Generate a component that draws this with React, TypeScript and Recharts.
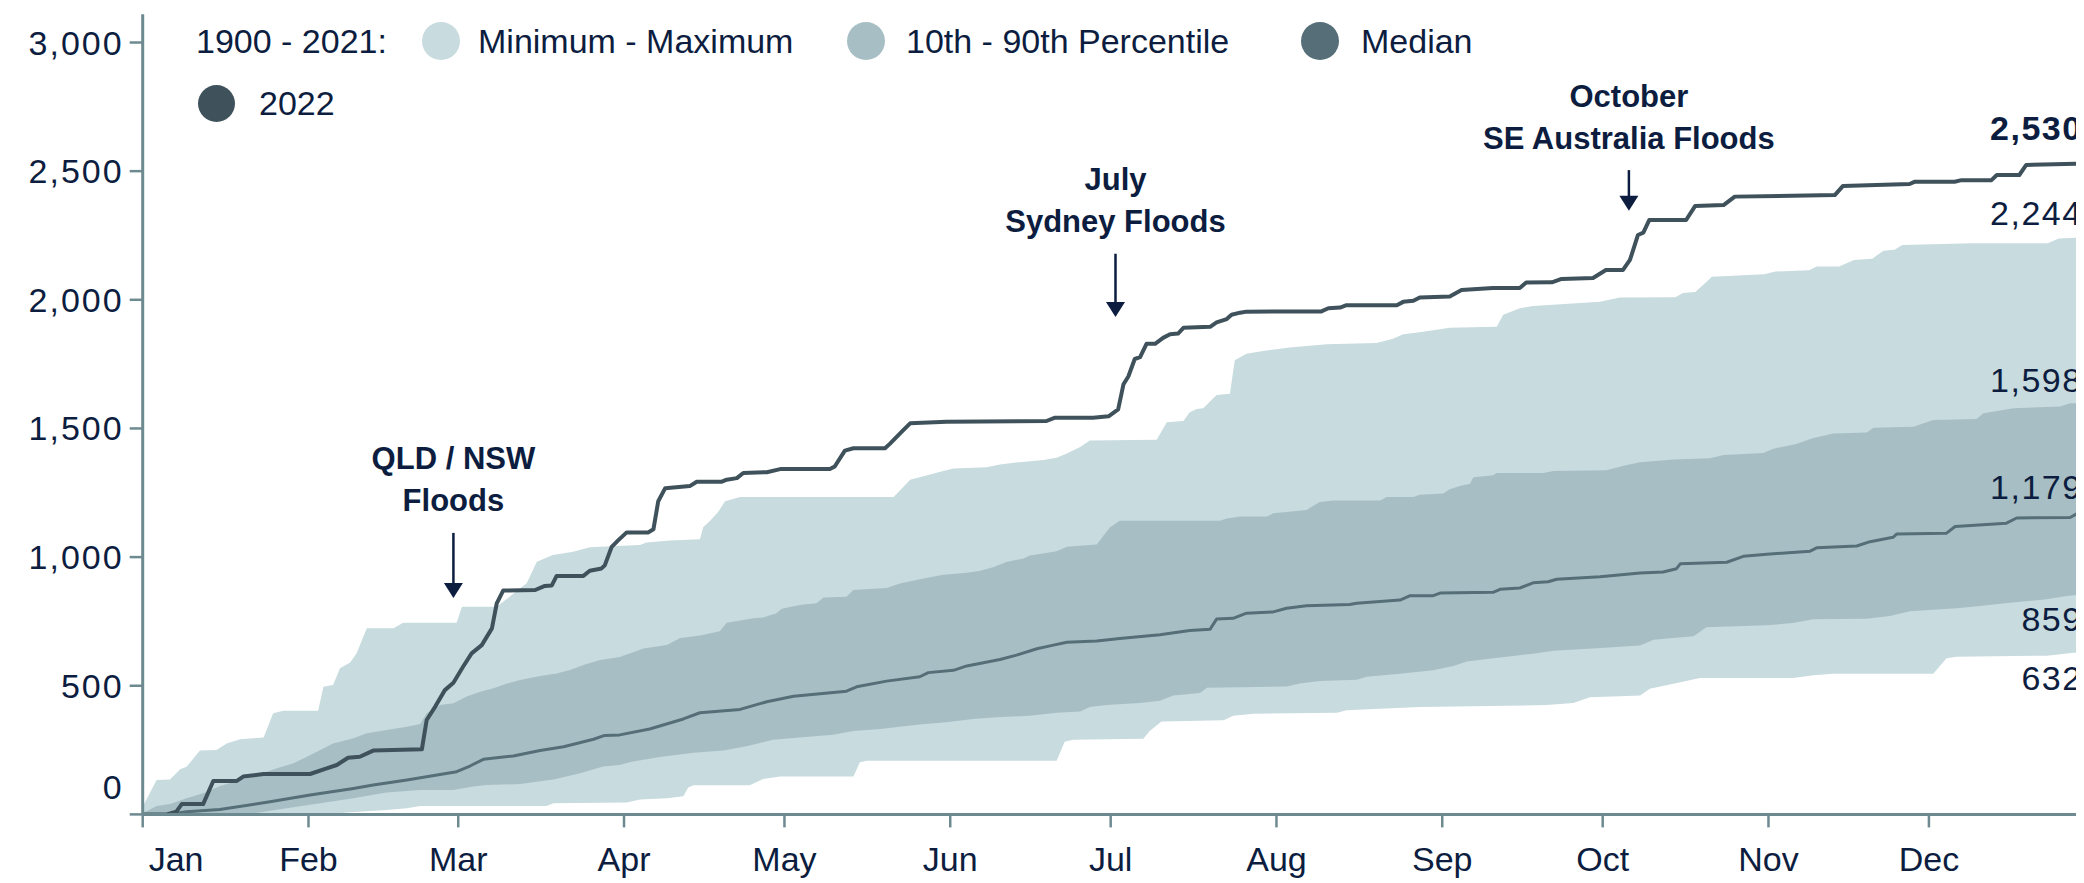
import React from 'react';
import { ComposedChart, Area, Line, XAxis, YAxis, ReferenceDot, ReferenceLine } from 'recharts';

// ---------- data (day of year, value in mm) ----------
const monthTicks = [0, 31, 59, 90, 120, 151, 181, 212, 243, 273, 304, 334];
const monthLabels = ['Jan', 'Feb', 'Mar', 'Apr', 'May', 'Jun', 'Jul', 'Aug', 'Sep', 'Oct', 'Nov', 'Dec'];
const yTicks = [0, 500, 1000, 1500, 2000, 2500, 3000];

const rain2022: [number, number][] = [
  [0, 0], [4.5, 0], [6.3, 11], [7.3, 40], [11.3, 40], [13.2, 130], [17.6, 130], [18.8, 147], [22.6, 157], [31.3, 157],
  [34.4, 179], [36.3, 192], [38.4, 220], [40.6, 224], [43.1, 248], [52.2, 253], [53.1, 367], [54.7, 419], [56.5, 483],
  [58.1, 512], [59.9, 574], [61.5, 626], [63.4, 658], [65.3, 723], [66.2, 820], [67.4, 870], [73.4, 872], [75.2, 888],
  [76.5, 890], [77.4, 927], [82.4, 927], [83.6, 947], [85.8, 956], [86.4, 968], [87.7, 1040], [88.9, 1065], [90.5, 1096],
  [94.5, 1096], [95.5, 1108], [96.4, 1217], [97.7, 1268], [102.3, 1276], [103.6, 1293], [108.3, 1293], [109.2, 1301],
  [111.1, 1307], [112.3, 1327], [116.7, 1330], [119.2, 1342], [128.5, 1342], [129.4, 1352], [131.3, 1414], [132.9, 1423],
  [138.8, 1423], [139.7, 1440], [141.9, 1487], [143.5, 1520], [150.3, 1526], [169.0, 1529], [170.6, 1542], [177.7, 1542],
  [180.6, 1547], [182.4, 1574], [183.4, 1672], [184.3, 1702], [185.5, 1770], [186.5, 1777], [187.7, 1829], [189.3, 1829],
  [190.8, 1852], [192.1, 1866], [193.6, 1869], [194.6, 1891], [199.6, 1895], [200.8, 1912], [202.7, 1925], [203.6, 1942],
  [205.2, 1950], [206.4, 1954], [220.4, 1955], [221.7, 1967], [223.9, 1970], [225.1, 1979], [234.5, 1979], [235.7, 1992],
  [237.6, 1996], [238.8, 2009], [244.4, 2013], [246.6, 2038], [248.8, 2041], [252.5, 2046], [257.5, 2046], [258.7, 2067],
  [263.5, 2068], [265.3, 2081], [271.2, 2085], [273.6, 2116], [276.8, 2116], [278.1, 2155], [279.6, 2252], [280.6, 2261],
  [281.7, 2310], [288.6, 2310], [290.3, 2365], [295.6, 2368], [297.7, 2401], [316.4, 2407], [317.9, 2442], [330.4, 2450],
  [331.4, 2459], [338.8, 2459], [340.1, 2465], [345.7, 2465], [346.7, 2485], [350.9, 2485], [352.2, 2524], [365, 2530],
];

const median: [number, number][] = [
  [0, 0], [4.5, 0], [8.2, 10], [14.4, 19], [23.8, 49], [31.3, 75], [39.4, 101], [43.1, 114], [49.4, 134], [58.7, 166],
  [61.2, 188], [63.7, 214], [69.3, 227], [74.3, 248], [78.7, 263], [84.3, 292], [86.4, 307], [89.2, 309], [94.8, 332],
  [101.1, 371], [104.2, 395], [111.7, 408], [116.7, 438], [121.7, 459], [131.6, 479], [133.5, 496], [139.1, 518],
  [145.3, 535], [146.9, 551], [151.6, 560], [154.1, 577], [160.3, 602], [163.4, 619], [167.2, 644], [170.3, 658],
  [172.8, 669], [178.4, 674], [182.7, 684], [190.2, 698], [195.8, 715], [199.6, 720], [200.8, 759], [203.9, 762],
  [206.4, 782], [211.4, 787], [213.9, 801], [217.6, 811], [225.7, 816], [227, 821], [235.1, 833], [237, 850], [241.3, 850],
  [242.6, 860], [252.5, 863], [253.8, 875], [257.5, 880], [260, 900], [262.8, 904], [264.4, 914], [272.5, 924], [280, 938],
  [284.3, 942], [286.8, 955], [287.5, 974], [296.2, 980], [299.3, 1003], [303.7, 1011], [311.8, 1023], [313, 1036],
  [320.5, 1043], [323, 1060], [327.3, 1077], [328, 1090], [337.3, 1093], [338.9, 1119], [348.5, 1132], [350.4, 1152],
  [360.4, 1154], [362.2, 1174], [365, 1179],
];

const p90: [number, number][] = [
  [0, 4], [2.6, 33], [5.1, 40], [8.2, 63], [11.3, 82], [14.5, 110], [18.2, 134], [21.9, 157], [25.1, 179], [28.2, 199],
  [30.7, 224], [33.2, 250], [35.6, 276], [39.4, 296], [41.9, 315], [45.6, 328], [49.4, 341], [51.9, 351], [53.1, 393],
  [55.6, 425], [58.1, 432], [60.6, 458], [63.1, 477], [65.6, 490], [68.1, 509], [70.6, 522], [74.3, 538], [77.4, 548],
  [79.9, 561], [82.4, 581], [85.5, 600], [89.2, 612], [91.7, 630], [93.6, 645], [98, 658], [100.5, 686], [104.2, 695],
  [107.9, 712], [109.2, 745], [114.2, 762], [116, 765], [118.5, 782], [119.5, 799], [121.7, 809], [123.5, 816], [126, 821],
  [127.3, 843], [131.6, 846], [132.9, 872], [136.6, 877], [139.1, 880], [141.6, 897], [145.3, 914], [149.7, 931],
  [154.1, 939], [156.6, 947], [159, 961], [161.5, 981], [164.7, 995], [165.9, 1006], [170.9, 1023], [172.8, 1040],
  [178.4, 1049], [179.6, 1082], [180.9, 1116], [182.7, 1141], [201.4, 1141], [202.7, 1150], [205.2, 1158], [210.2, 1158],
  [211.4, 1170], [213.9, 1175], [217.6, 1183], [218.9, 1200], [220.1, 1214], [222.6, 1220], [231.4, 1220], [232.6, 1234],
  [237.6, 1234], [238.8, 1242], [243.2, 1247], [244.4, 1264], [246.3, 1276], [248.2, 1285], [248.8, 1310], [252.5, 1318],
  [253.2, 1327], [261.9, 1327], [263.8, 1335], [273.7, 1338], [276.9, 1355], [280, 1369], [286.2, 1379], [293.1, 1384],
  [295.6, 1397], [303, 1405], [304.9, 1421], [307.4, 1432], [309.3, 1441], [312.4, 1463], [316.1, 1480], [322.4, 1484],
  [323.6, 1503], [331.1, 1507], [334.8, 1533], [342.9, 1537], [344.2, 1559], [349.8, 1579], [358.5, 1585], [360.4, 1598],
  [365, 1598],
];

const p10: [number, number][] = [
  [0, 0], [15, 0], [20.7, 4], [26.9, 24], [33.2, 43], [39.4, 63], [45.6, 85], [51.9, 95], [58.1, 95], [61.8, 108],
  [64.3, 114], [70.6, 118], [76.8, 136], [81.8, 160], [86.1, 186], [89.2, 192], [91.7, 206], [96.7, 223], [103, 240],
  [108.6, 248], [112.9, 265], [117.9, 290], [122.9, 299], [129.1, 310], [132.9, 324], [137.9, 332], [145.3, 349],
  [150.3, 358], [155.3, 371], [159.7, 378], [165.9, 383], [170.9, 395], [175.3, 400], [177.1, 417], [180.2, 425],
  [186.5, 433], [190.2, 442], [192.7, 462], [197.7, 472], [199, 492], [213.9, 497], [216.4, 509], [220.1, 518], [227, 523],
  [228.9, 535], [235.1, 547], [241.3, 560], [245.1, 577], [247.6, 594], [253.8, 610], [260, 624], [263.8, 636],
  [271.9, 646], [280, 656], [282.5, 679], [290, 692], [292.4, 727], [303.7, 735], [308.6, 744], [312.4, 758], [322.4, 760],
  [326.7, 771], [330.5, 790], [339.2, 801], [343.6, 810], [349.2, 823], [356, 836], [359.8, 849], [365, 859],
];

const maxSeries: [number, number][] = [
  [0, 30], [2.6, 134], [5.1, 136], [7, 175], [8.2, 185], [10.7, 248], [13.8, 250], [15.7, 276], [18.2, 292], [22.6, 299],
  [24.4, 393], [26.3, 403], [32.8, 403], [33.8, 496], [35.6, 503], [36.9, 568], [38.8, 590], [40, 626], [41.9, 723],
  [46.9, 723], [48.7, 745], [58.7, 745], [59.7, 807], [66.2, 807], [71.8, 898], [73.7, 982], [76.7, 1008], [80.5, 1021],
  [83.6, 1038], [93, 1047], [94.2, 1057], [98.6, 1065], [104.2, 1069], [104.8, 1116], [106.1, 1141], [107.6, 1175],
  [108.9, 1217], [111.7, 1234], [140.4, 1234], [141.6, 1259], [143.5, 1301], [145.3, 1310], [149.7, 1335], [151.6, 1344],
  [157.8, 1349], [160.3, 1360], [164, 1369], [168.4, 1377], [170.9, 1386], [172.8, 1403], [175.3, 1428], [177.1, 1453],
  [189.6, 1456], [191.5, 1524], [194.6, 1529], [195.8, 1563], [197.1, 1576], [198.3, 1579], [200.8, 1630], [203.3, 1635],
  [204.2, 1765], [206.4, 1790], [208.9, 1799], [212.7, 1810], [214.5, 1815], [221.4, 1827], [230.7, 1832], [233.8, 1849],
  [235.7, 1866], [238.8, 1874], [244.4, 1891], [253.2, 1895], [254.4, 1942], [257.5, 1967], [260, 1976], [272.5, 1992],
  [276.2, 2009], [286.6, 2010], [288, 2026], [290.3, 2030], [292.8, 2077], [293.4, 2090], [303.2, 2099], [305.3, 2110],
  [311.6, 2115], [313, 2129], [317.2, 2129], [320, 2155], [323.4, 2160], [325.5, 2191], [327.6, 2195], [329, 2213],
  [342.2, 2220], [356.2, 2220], [358.3, 2238], [365, 2244],
];

const minSeries: [number, number][] = [
  [0, 0], [30.7, 0], [35.6, 2], [38.1, 7], [45.6, 17], [49.4, 24], [51.9, 33], [75.5, 33], [76.8, 43], [90.5, 46],
  [93, 58], [98, 63], [101.1, 71], [102, 105], [103, 113], [113.5, 113], [116, 138], [119.2, 147], [132.9, 147],
  [134.1, 203], [135.4, 209], [170.9, 209], [172.4, 282], [174, 290], [187.1, 294], [188.3, 324], [190.5, 361],
  [202.1, 366], [203.9, 383], [207.7, 391], [223.3, 395], [225.1, 405], [228.2, 408], [238.8, 417], [262.5, 425],
  [267.5, 433], [270.6, 455], [276.2, 459], [280, 462], [281.8, 488], [286.2, 508], [291.2, 530], [308.6, 530],
  [312.4, 541], [316.1, 547], [334.8, 547], [337.3, 607], [339.2, 613], [356, 617], [361, 628], [365, 632],
];

// annotations: day, arrow tip value, arrow tail value, text lines
const annoDays = [58.1, 181.9, 277.9];
const annoTip = [841, 1933, 2346];
const annoTail = [1094, 2179, 2504];
const annoText = [['QLD / NSW', 'Floods'], ['July', 'Sydney Floods'], ['October', 'SE Australia Floods']];

const legendLabels = ['1900 - 2021:', 'Minimum - Maximum', '10th - 90th Percentile', 'Median', '2022'];

// ---------- styles ----------
const TEXT = '#0c1d40';
const AXIS = '#6e8a91';
const LIGHT = '#c8dbdf';
const MID = '#a7bfc4';
const MEDIAN = '#566e78';
const Y2022 = '#3f525c';
const FONT = '"Liberation Sans", Arial, sans-serif';

// merge the series into one table keyed by day
const seriesMap: Record<string, [number, number][]> = {
  max: maxSeries, p90, p10, min: minSeries, median, y2022: rain2022,
};
const rowMap = new Map<number, any>();
Object.entries(seriesMap).forEach(([key, arr]) => {
  arr.forEach(([d, v]) => {
    const r = rowMap.get(d) ?? { day: d };
    r[key] = v;
    rowMap.set(d, r);
  });
});
const data = Array.from(rowMap.values()).sort((a, b) => a.day - b.day);

const last = (arr: [number, number][]) => arr[arr.length - 1][1];
const endLabels = [
  { v: last(rain2022), pos: 'top2022' },
  { v: last(maxSeries), pos: 'above' },
  { v: last(p90), pos: 'above' },
  { v: last(median), pos: 'above' },
  { v: last(p10), pos: 'below' },
  { v: last(minSeries), pos: 'below' },
];

const fmt = (v: number) => v.toLocaleString('en-US');

const YTick = (props: any) => {
  const { x, y, payload } = props;
  const v = payload.value;
  const shift = v === 0 ? -27 : 0;
  return (
    <text x={x - 4} y={y + shift + 12} textAnchor="end" fill={TEXT} fontSize={34}
      fontFamily={FONT} letterSpacing={2}>{fmt(v)}</text>
  );
};

const XTick = (props: any) => {
  const { x, y, payload } = props;
  const i = monthTicks.indexOf(payload.value);
  const first = i === 0;
  return (
    <text x={first ? x + 6 : x} y={y + 42} textAnchor={first ? 'start' : 'middle'} fill={TEXT}
      fontSize={34} fontFamily={FONT}>{monthLabels[i]}</text>
  );
};

const Circle = ({ left, top, r, color }: any) => (
  <div style={{ position: 'absolute', left: left - r, top: top - r, width: 2 * r, height: 2 * r, borderRadius: '50%', background: color }} />
);
const LText = ({ left, top, children }: any) => (
  <div style={{ position: 'absolute', left, top: top - 20, height: 40, lineHeight: '40px', fontSize: 34, fontFamily: FONT, color: TEXT, whiteSpace: 'nowrap' }}>{children}</div>
);

export default function App() {
  return (
    <div style={{ position: 'relative', width: 2076, height: 875, overflow: 'hidden', background: '#fff' }}>
      <ComposedChart width={2120} height={875} data={data} margin={{ top: 6.2, right: 33.3, bottom: 0, left: 0 }}>
        <Area dataKey="max" type="linear" baseValue={0} stroke="none" fill={LIGHT} fillOpacity={1} connectNulls isAnimationActive={false} />
        <Area dataKey="p90" type="linear" baseValue={0} stroke="none" fill={MID} fillOpacity={1} connectNulls isAnimationActive={false} />
        <Area dataKey="p10" type="linear" baseValue={0} stroke="none" fill={LIGHT} fillOpacity={1} connectNulls isAnimationActive={false} />
        <Area dataKey="min" type="linear" baseValue={0} stroke="none" fill="#ffffff" fillOpacity={1} connectNulls isAnimationActive={false} />
        <Line dataKey="median" type="linear" stroke={MEDIAN} strokeWidth={3} dot={false} connectNulls isAnimationActive={false} strokeLinejoin="round" />
        <Line dataKey="y2022" type="linear" stroke={Y2022} strokeWidth={4} dot={false} connectNulls isAnimationActive={false} strokeLinejoin="round" />

        {annoDays.map((d, i) => (
          <ReferenceLine key={'al' + i} segment={[{ x: d, y: annoTail[i] }, { x: d, y: annoTip[i] + 40 }]} stroke={TEXT} strokeWidth={2.5} />
        ))}
        {annoDays.map((d, i) => (
          <ReferenceDot key={'ah' + i} x={d} y={annoTip[i]} r={0}
            shape={(p: any) => (
              <polygon points={`${p.cx - 9.5},${p.cy - 15} ${p.cx + 9.5},${p.cy - 15} ${p.cx},${p.cy}`} fill={TEXT} />
            )} />
        ))}
        {annoDays.map((d, i) => (
          <ReferenceDot key={'at' + i} x={d} y={annoTail[i]} r={0}
            shape={(p: any) => (
              <text x={p.cx} textAnchor="middle" fill={TEXT} fontSize={31} fontWeight="bold" fontFamily={FONT}>
                <tspan x={p.cx} y={p.cy - 63.5}>{annoText[i][0]}</tspan>
                <tspan x={p.cx} y={p.cy - 21.5}>{annoText[i][1]}</tspan>
              </text>
            )} />
        ))}
        {endLabels.map((e, i) => (
          <ReferenceDot key={'el' + i} x={365} y={e.v} r={0}
            shape={(p: any) => (
              <text x={p.cx - 12}
                y={p.cy + (e.pos === 'top2022' ? -23.7 : e.pos === 'above' ? -11.7 : 37.8)}
                textAnchor="end" fill={TEXT} fontSize={34} letterSpacing={1.5}
                fontWeight={e.pos === 'top2022' ? 'bold' : 'normal'} fontFamily={FONT}>{fmt(e.v)}</text>
            )} />
        ))}

        <XAxis dataKey="day" type="number" domain={[0, 365]} ticks={monthTicks} tick={<XTick />} tickSize={13}
          height={68.6} allowDataOverflow interval={0}
          axisLine={{ stroke: AXIS, strokeWidth: 3 }} tickLine={{ stroke: AXIS, strokeWidth: 2.5 }} />
        <YAxis type="number" domain={[0, 3110]} ticks={yTicks} tick={<YTick />} tickSize={13} width={134.7}
          allowDataOverflow interval={0}
          axisLine={{ stroke: AXIS, strokeWidth: 3 }} tickLine={{ stroke: AXIS, strokeWidth: 2.5 }} />
      </ComposedChart>

      <div style={{ position: 'absolute', left: 0, top: 0, width: 2076, height: 130, pointerEvents: 'none' }}>
        <LText left={188} top={33}>{legendLabels[0]}</LText>
        <Circle left={433} top={33} r={19} color={LIGHT} />
        <LText left={470} top={33}>{legendLabels[1]}</LText>
        <Circle left={858} top={33} r={19} color={MID} />
        <LText left={898} top={33}>{legendLabels[2]}</LText>
        <Circle left={1312} top={33} r={19} color={MEDIAN} />
        <LText left={1353} top={33}>{legendLabels[3]}</LText>
        <Circle left={208.5} top={95} r={18.5} color={Y2022} />
        <LText left={251} top={95}>{legendLabels[4]}</LText>
      </div>
    </div>
  );
}
